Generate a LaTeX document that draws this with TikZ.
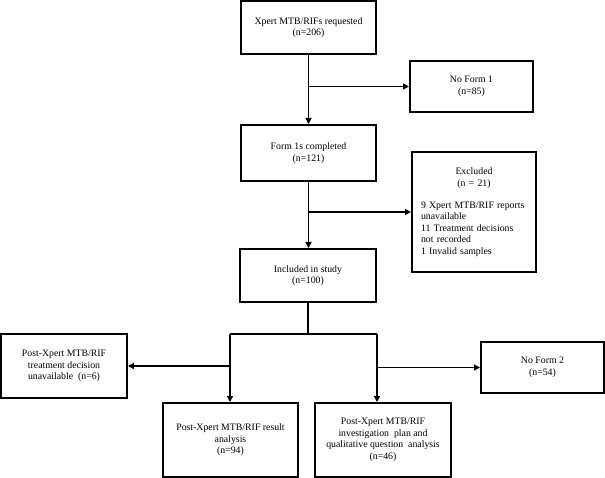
\documentclass[tikz,border=0pt]{standalone}
\usepackage{fontspec}
\setmainfont{Liberation Serif}
\usetikzlibrary{arrows.meta,positioning}
\tikzset{
  flowbox/.style={draw,line width=2pt,align=center,inner sep=3pt,
    font=\fontsize{9.8}{11.5}\selectfont},
  link/.style={line width=1.9pt},
  arr/.style={link,-{Triangle[length=6pt,width=6pt]}}
}

\begin{document}
\begin{tikzpicture}[x=1pt,y=-1pt]
\useasboundingbox (0,0) rectangle (605,478);

% upper chain
\node[flowbox,minimum width=135pt,minimum height=53pt] (req) at (308.5,27.5)
  {Xpert MTB/RIFs requested\\(n=206)};
\node[flowbox,minimum width=123pt,minimum height=51pt] (nof1) at (471.5,86.5)
  {No Form 1\\(n=85)};
\node[flowbox,minimum width=135pt,minimum height=56pt] (form1) at (308.5,153)
  {Form 1s completed\\(n=121)};
\node[flowbox,minimum width=124pt,minimum height=120pt,text width=106pt,
      align=left] (excl) at (474,212)
  {{\centering Excluded\\(n = 21)\par}\vspace{10.5pt}
   9 Xpert MTB/RIF reports\\unavailable\\11 Treatment decisions\\
   not recorded\\1 Invalid samples};
\node[flowbox,minimum width=136pt,minimum height=53pt] (incl) at (308,275.5)
  {Included in study\\(n=100)};

% lower row
\node[flowbox,minimum width=126pt,minimum height=64pt] (unav) at (64,366)
  {Post-Xpert MTB/RIF\\treatment decision\\unavailable~ (n=6)};
\node[flowbox,minimum width=123pt,minimum height=51pt] (nof2) at (542.5,367.5)
  {No Form 2\\(n=54)};
\node[flowbox,minimum width=135pt,minimum height=74pt] (res) at (230.5,440)
  {Post-Xpert MTB/RIF result\\analysis\\(n=94)};
\node[flowbox,minimum width=136pt,minimum height=74pt] (inv) at (383,440)
  {Post-Xpert MTB/RIF\\investigation~ plan and\\qualitative question~ analysis\\(n=46)};

% connectors
\draw[arr] (req.south) -- (form1.north);
\draw[arr] (req.south |- nof1.west) -- (nof1.west);
\draw[arr] (form1.south) -- (form1.south |- incl.north);
\draw[arr] (form1.south |- excl.west) -- (excl.west);

\coordinate (splitL) at (230,334);
\coordinate (splitR) at (377,334);
\draw[link] (incl.south) -- (incl.south |- splitL);
\draw[link] (splitL) -- (splitR);
\draw[arr] (splitL) -- (splitL |- res.north);
\draw[arr] (splitR) -- (splitR |- inv.north);
\draw[arr] (splitL |- unav.east) -- (unav.east);
\draw[arr] (splitR |- nof2.west) -- (nof2.west);
\end{tikzpicture}
\end{document}
